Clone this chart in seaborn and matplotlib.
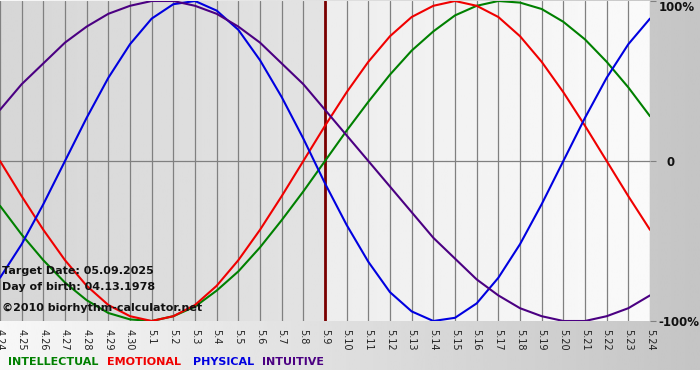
import numpy as np
import pandas as pd
import seaborn as sns
import matplotlib.pyplot as plt

# day labels, 4.24 .. 5.24
days = ["4.24", "4.25", "4.26", "4.27", "4.28", "4.29", "4.30"] + [f"5.{d}" for d in range(1, 25)]

# cycle values (-1 .. 1)
intellectual = [-0.28, -0.46, -0.62, -0.76, -0.87, -0.95, -0.99, -1.00, -0.97, -0.91,
                -0.81, -0.69, -0.54, -0.37, -0.19, 0.00, 0.19, 0.37, 0.54, 0.69,
                0.81, 0.91, 0.97, 1.00, 0.99, 0.95, 0.87, 0.76, 0.62, 0.46, 0.28]
emotional = [0.00, -0.22, -0.43, -0.62, -0.78, -0.90, -0.97, -1.00, -0.97, -0.90,
             -0.78, -0.62, -0.43, -0.22, 0.00, 0.22, 0.43, 0.62, 0.78, 0.90,
             0.97, 1.00, 0.97, 0.90, 0.78, 0.62, 0.43, 0.22, 0.00, -0.22, -0.43]
physical = [-0.73, -0.52, -0.27, 0.00, 0.27, 0.52, 0.73, 0.89, 0.98, 1.00,
            0.94, 0.82, 0.63, 0.40, 0.14, -0.14, -0.40, -0.63, -0.82, -0.94,
            -1.00, -0.98, -0.89, -0.73, -0.52, -0.27, 0.00, 0.27, 0.52, 0.73, 0.89]
intuitive = [0.32, 0.48, 0.61, 0.74, 0.84, 0.92, 0.97, 1.00, 1.00, 0.97,
             0.92, 0.84, 0.74, 0.61, 0.48, 0.32, 0.16, 0.00, -0.16, -0.32,
             -0.48, -0.61, -0.74, -0.84, -0.92, -0.97, -1.00, -1.00, -0.97, -0.92, -0.84]

series = ["INTELLECTUAL", "EMOTIONAL", "PHYSICAL", "INTUITIVE"]
colors = ["#008000", "#f00000", "#0000e0", "#4b0082"]
target_idx = days.index("5.9")

df = pd.DataFrame({"day": range(len(days)),
                   "INTELLECTUAL": intellectual, "EMOTIONAL": emotional,
                   "PHYSICAL": physical, "INTUITIVE": intuitive})
long = df.melt(id_vars="day", var_name="cycle", value_name="value")

sns.set_style("white")
plt.rcParams["font.family"] = ["DejaVu Sans"]

fig = plt.figure(figsize=(7, 3.8), dpi=100)

# figure background: grey gradient, white strip at the very bottom
bg = fig.add_axes([0, 0, 1, 1], zorder=-5)
grad = np.linspace(0.97, 0.77, 256).reshape(1, -1)
bg.imshow(grad, cmap="gray", vmin=0, vmax=1, extent=[0, 700, 10, 380], aspect="auto")
bg.set_xlim(0, 700)
bg.set_ylim(0, 380)
bg.axis("off")

ax = fig.add_axes([0, 59 / 380, 650 / 700, 320 / 380])
ax.set_xlim(0, len(days) - 1)
ax.set_ylim(-1.0, 1.0)

# plot-area shading: darker before target date, lighter after
left_grad = np.linspace(0.84, 0.89, 128).reshape(1, -1)
right_grad = np.linspace(0.93, 0.98, 128).reshape(1, -1)
ax.imshow(left_grad, cmap="gray", vmin=0, vmax=1, aspect="auto",
          extent=[0, target_idx, -1, 1], zorder=0)
ax.imshow(right_grad, cmap="gray", vmin=0, vmax=1, aspect="auto",
          extent=[target_idx, len(days) - 1, -1, 1], zorder=0)

ax.set_xticks(range(len(days)))
ax.set_xticklabels(days, rotation=270, fontsize=7, color="#222222")
ax.grid(axis="x", color="#808080", lw=0.9)
ax.set_axisbelow(False)
ax.axhline(0, color="#808080", lw=0.9, zorder=2.6)
ax.axvline(target_idx, color="#7a0000", lw=2, zorder=2.8)

sns.lineplot(data=long, x="day", y="value", hue="cycle", hue_order=series,
             palette=colors, lw=1.5, legend=False, ax=ax, zorder=3)

ax.set_xlabel("")
ax.set_ylabel("")
for s in ax.spines.values():
    s.set_visible(False)

ax.yaxis.tick_right()
ax.set_yticks([-1, 0, 1])
ax.set_yticklabels(["-100%", "0", "100%"], fontsize=8.5, fontweight="bold", color="#111111")
ax.tick_params(axis="y", length=4, color="#808080", pad=2)
ax.tick_params(axis="x", length=4, color="#808080", pad=2)
ylabs = ax.get_yticklabels()
ylabs[2].set_va("top")
ylabs[1].set_x(1.012)

info = ["Target Date: 05.09.2025", "Day of birth: 04.13.1978", "\u00a92010 biorhythm-calculator.net"]
for txt, y in zip(info, [-0.69, -0.79, -0.92]):
    ax.text(0.08, y, txt, fontsize=8, fontweight="bold", color="#111111", va="center", zorder=4)

for name, c, x in zip(series, colors, [8, 107, 193, 262]):
    fig.text(x / 700, 18 / 380, name, color=c, fontsize=8, fontweight="bold", va="center")

plt.savefig("out.png", dpi=100)
